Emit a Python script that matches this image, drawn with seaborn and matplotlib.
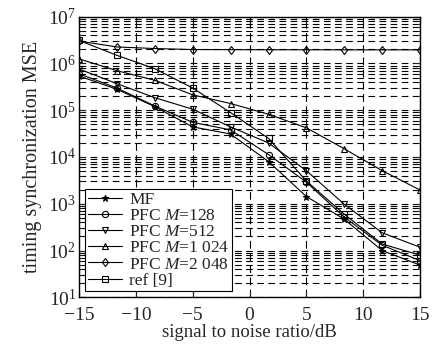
import numpy as np
import pandas as pd
import seaborn as sns
import matplotlib
matplotlib.use("Agg")
import matplotlib.pyplot as plt
from matplotlib.ticker import LogLocator, NullFormatter

# 数据
snr = [-15, -11.67, -8.33, -5, -1.67, 1.67, 5, 8.33, 11.67, 15]

mf = [5.4e5, 2.8e5, 1.19e5, 4.4e4, 3.1e4, 8.0e3, 1.43e3, 4.7e2, 1.0e2, 49]
pfc_128 = [6.0e5, 2.98e5, 1.23e5, 5.5e4, 3.8e4, 1.13e4, 2.9e3, 5.2e2, 1.3e2, 61]
pfc_512 = [7.6e5, 3.7e5, 1.85e5, 1.05e5, 4.4e4, 2.0e4, 5.1e3, 9.8e2, 2.4e2, 118]
pfc_1024 = [1.25e6, 7.0e5, 4.36e5, 2.13e5, 1.39e5, 8.2e4, 4.2e4, 1.5e4, 5.1e3, 1.97e3]
pfc_2048 = [3.0e6, 2.25e6, 2.08e6, 1.98e6, 1.97e6, 1.96e6, 1.96e6, 1.95e6, 1.95e6, 1.95e6]
ref9 = [3.1e6, 1.49e6, 7.7e5, 2.98e5, 8.9e4, 2.5e4, 3.07e3, 6.0e2, 1.38e2, 80]

series = [
    ("MF", mf, "*", "k"),
    ("PFC $M$=128", pfc_128, "o", "none"),
    ("PFC $M$=512", pfc_512, "v", "none"),
    ("PFC $M$=1 024", pfc_1024, "^", "none"),
    ("PFC $M$=2 048", pfc_2048, "d", "none"),
    ("ref [9]", ref9, "s", "none"),
]

sns.set_style("ticks")
plt.rcParams["font.family"] = ["Liberation Serif", "DejaVu Serif"]
plt.rcParams["mathtext.fontset"] = "custom"
plt.rcParams["mathtext.rm"] = "Liberation Serif"
plt.rcParams["mathtext.it"] = "Liberation Serif:italic"

fig = plt.figure(figsize=(4.44, 3.54), dpi=100)
ax = fig.add_axes([0.178, 0.16, 0.768, 0.793])

for label, vals, mk, fc in series:
    df = pd.DataFrame({"snr": snr, "mse": vals})
    sns.lineplot(data=df, x="snr", y="mse", ax=ax, color="k", lw=0.8,
                 marker=mk, markersize=4.5 if mk != "*" else 5,
                 markerfacecolor=fc, markeredgecolor="k", markeredgewidth=0.8,
                 label=label)

ax.set_yscale("log")
ax.set_ylim(10, 1e7)
ax.set_xlim(-15, 15)
ax.set_xticks([-15, -10, -5, 0, 5, 10, 15])
ax.yaxis.set_major_locator(LogLocator(base=10, numticks=10))
ax.yaxis.set_minor_locator(LogLocator(base=10, subs=np.arange(2, 10), numticks=20))
ax.yaxis.set_minor_formatter(NullFormatter())

# 虚线网格
ax.grid(True, which="major", axis="x", ls=(0, (7, 4)), color="k", lw=0.8)
ax.grid(True, which="both", axis="y", ls=(0, (6, 4)), color="k", lw=0.8)

ax.tick_params(direction="in", top=True, right=True, labelsize=14, length=4)
ax.tick_params(axis="y", pad=2)
ax.tick_params(axis="x", pad=7)
ax.tick_params(which="minor", direction="in", right=True, length=2)
for s in ax.spines.values():
    s.set_linewidth(1.0)
    s.set_color("k")

ax.set_xlabel("signal to noise ratio/dB", fontsize=13.5, labelpad=0)
ax.set_ylabel("timing synchronization MSE", fontsize=14.5, labelpad=4)

leg = ax.legend(loc="lower left", fontsize=12.5, frameon=True, fancybox=False,
                edgecolor="k", framealpha=1, borderpad=0.15, labelspacing=0.0,
                handlelength=2.0, handletextpad=0.4, borderaxespad=0.35)
leg.get_frame().set_linewidth(0.8)

fig.savefig("out.png", dpi=100)
